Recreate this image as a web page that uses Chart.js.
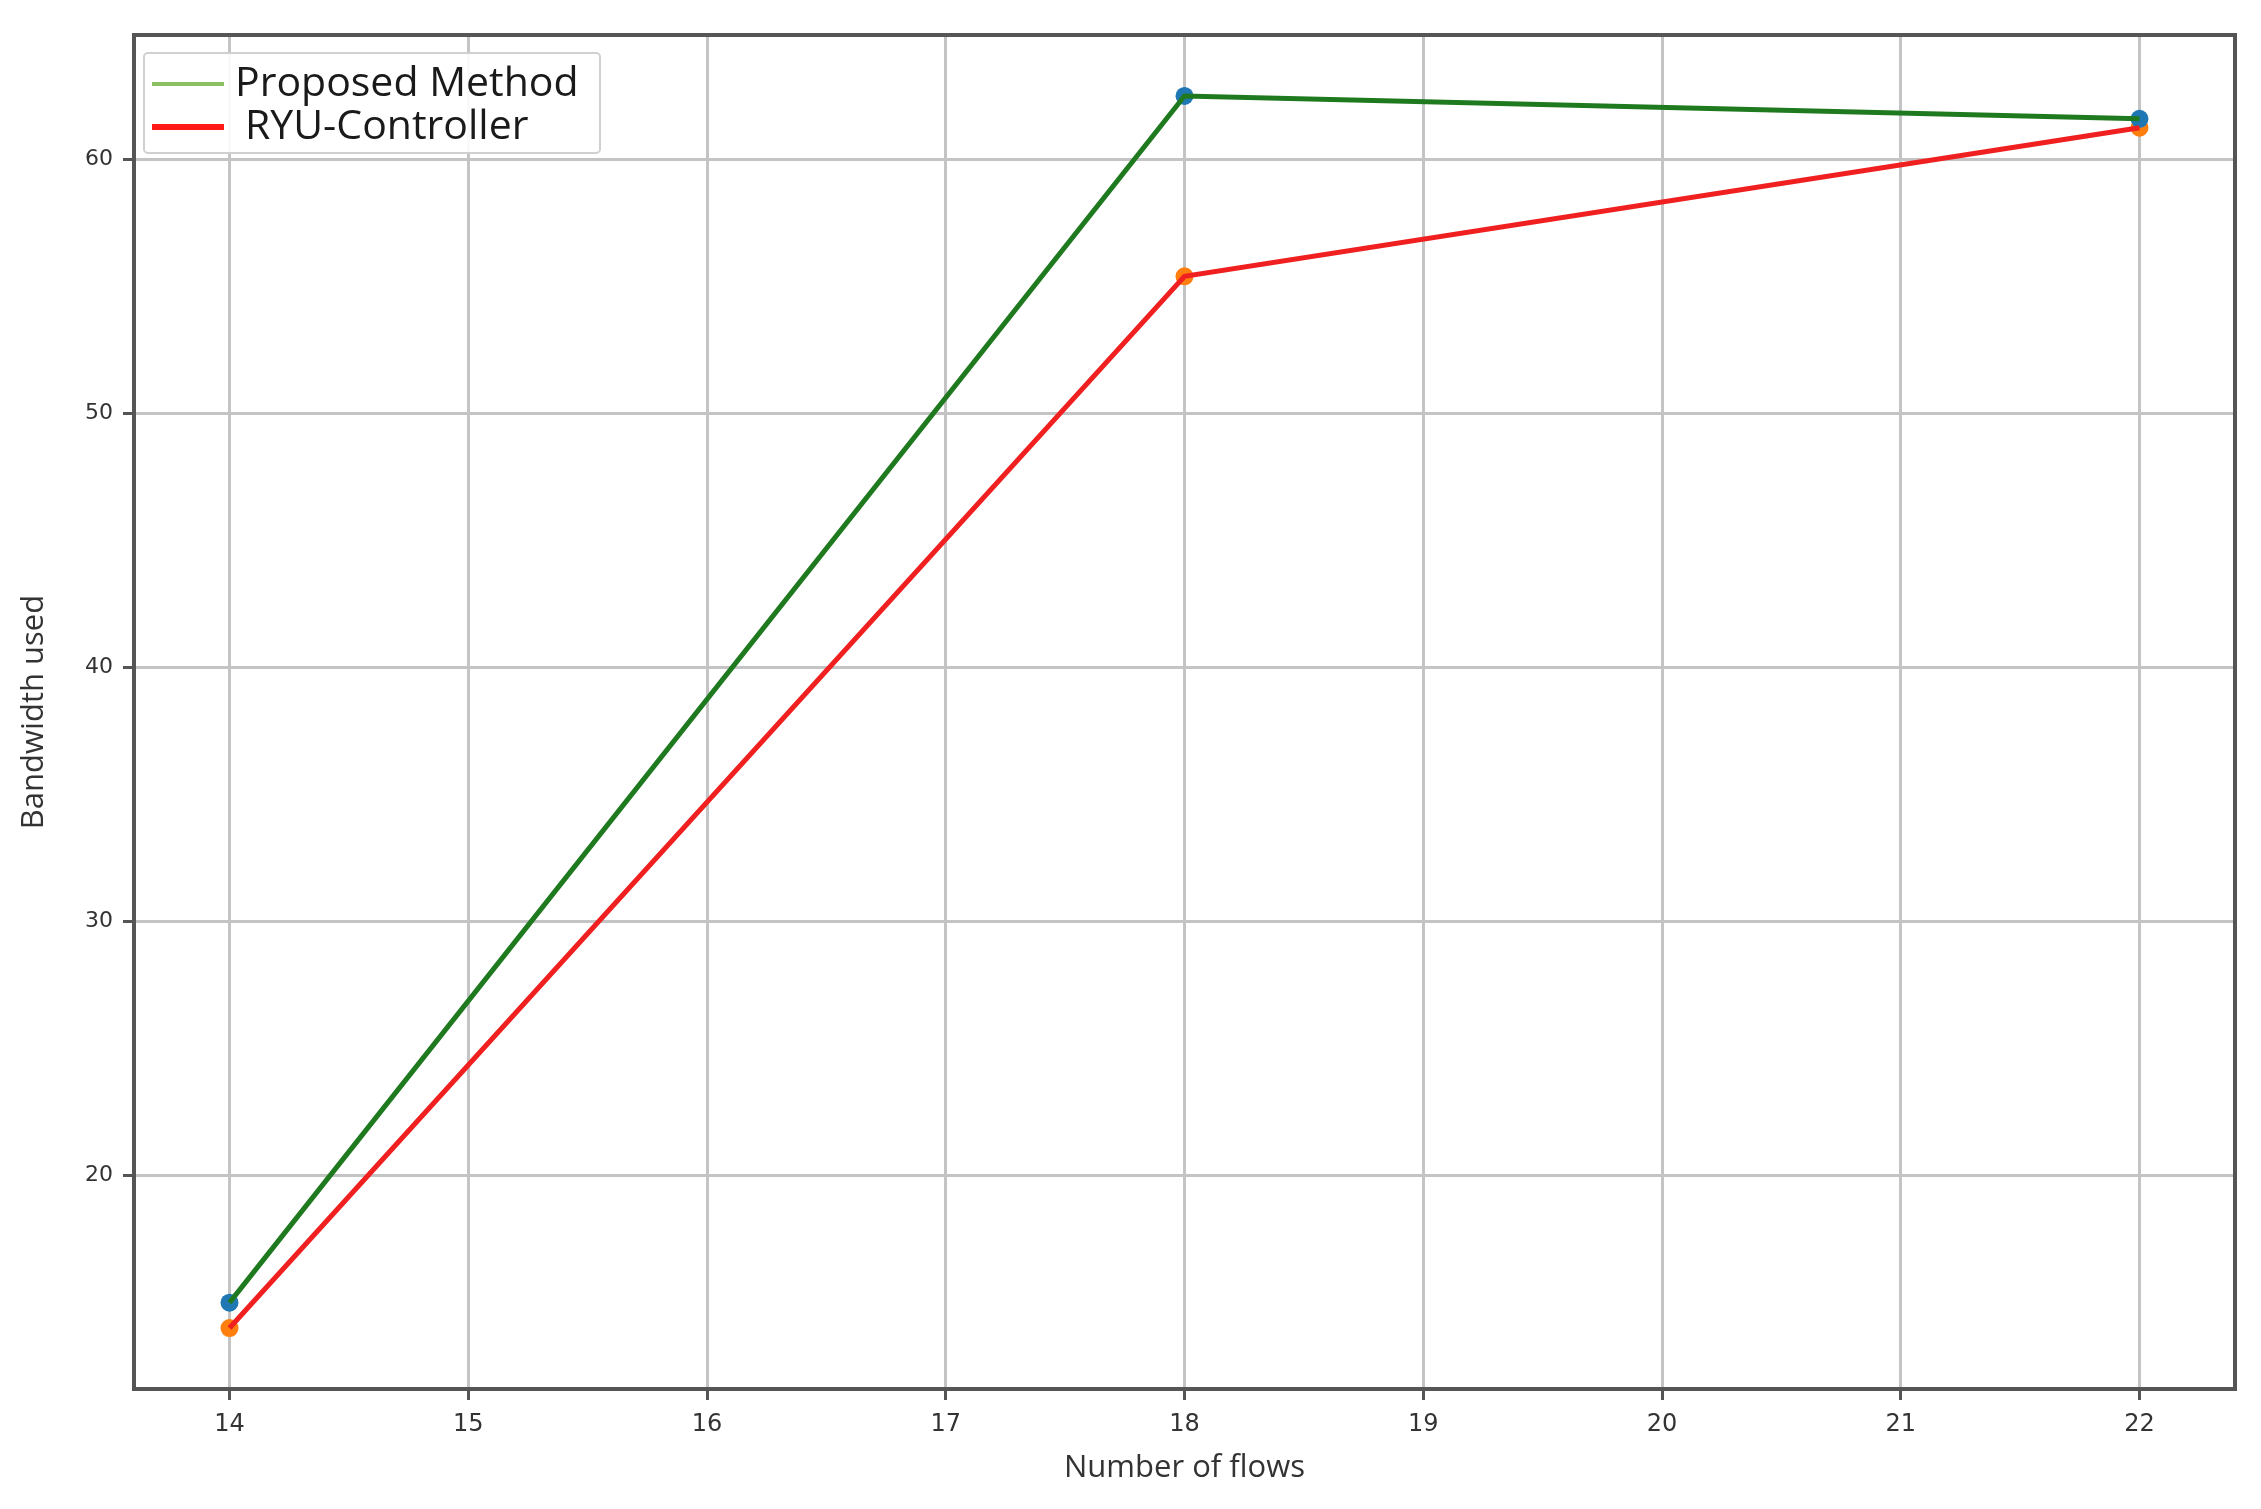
<!DOCTYPE html>
<html>
<head>
<meta charset="utf-8">
<script src="https://cdn.jsdelivr.net/npm/chart.js@4.4.1/dist/chart.umd.min.js"></script>
<style>
  html, body { margin: 0; padding: 0; background: #fff; }
  #wrap { width: 2261px; height: 1509px; position: relative; }
</style>
</head>
<body>
<div id="wrap"><canvas id="bwChart" width="2261" height="1509"></canvas></div>
<script>
// ==========================================
// DATA
// ==========================================
const flows = [14, 18, 22];
const proposedMethod = [15.0, 62.5, 61.6];
const ryuController = [14.0, 55.4, 61.25];
const xTicks = [14, 15, 16, 17, 18, 19, 20, 21, 22];
const yTicks = [20, 30, 40, 50, 60];
const legendLabels = ['Proposed Method', 'RYU-Controller'];

const toPoints = (xs, ys) => xs.map((x, i) => ({ x: x, y: ys[i] }));

// frame + legend drawn inside the plot, matplotlib style
const framePlugin = {
  id: 'frame',
  afterDatasetsDraw(chart) {
    const { ctx, chartArea: a } = chart;
    ctx.save();
    ctx.strokeStyle = '#555';
    ctx.lineWidth = 4;
    ctx.strokeRect(a.left, a.top, a.right - a.left, a.bottom - a.top);

    // legend box
    const bx = a.left + 10, by = a.top + 18, bw = 456, bh = 100;
    ctx.fillStyle = 'rgba(255,255,255,0.9)';
    ctx.strokeStyle = '#d0d0d0';
    ctx.lineWidth = 2;
    ctx.beginPath();
    ctx.roundRect(bx, by, bw, bh, 4);
    ctx.fill();
    ctx.stroke();

    const rows = [
      { label: legendLabels[0], color: '#8cbf62', width: 4, y: by + 31 },
      { label: legendLabels[1], color: '#ff1a1a', width: 6, y: by + 74 }
    ];
    ctx.font = '41px "Open Sans"';
    ctx.textBaseline = 'middle';
    rows.forEach((r, i) => {
      ctx.strokeStyle = r.color;
      ctx.lineWidth = r.width;
      ctx.beginPath();
      ctx.moveTo(bx + 8, r.y);
      ctx.lineTo(bx + 80, r.y);
      ctx.stroke();
      ctx.fillStyle = '#1a1a1a';
      ctx.fillText(r.label, bx + (i === 0 ? 91 : 101), r.y);
    });
    ctx.restore();
  }
};

const ctx = document.getElementById('bwChart');
new Chart(ctx.getContext('2d'), {
  type: 'line',
  data: {
    datasets: [
      { label: legendLabels[0], data: toPoints(flows, proposedMethod), borderColor: '#1f7a1f',
        borderWidth: 5, pointRadius: 0, tension: 0, order: 1 },
      { label: legendLabels[1], data: toPoints(flows, ryuController), borderColor: '#f02020',
        borderWidth: 5, pointRadius: 0, tension: 0, order: 1 },
      { type: 'scatter', data: toPoints(flows, proposedMethod), backgroundColor: '#1f77b4',
        borderWidth: 0, pointRadius: 9, order: 2 },
      { type: 'scatter', data: toPoints(flows, ryuController), backgroundColor: '#ff7f0e',
        borderWidth: 0, pointRadius: 9, order: 2 }
    ]
  },
  options: {
    responsive: false,
    animation: false,
    layout: { padding: { top: 35, right: 26, left: 0, bottom: 0 } },
    plugins: { legend: { display: false }, tooltip: { enabled: false } },
    scales: {
      x: {
        type: 'linear',
        min: 13.6, max: 22.4,
        afterBuildTicks: s => { s.ticks = xTicks.map(v => ({ value: v })); },
        afterFit: s => { s.height = 120; },
        grid: { color: '#c4c4c4', lineWidth: 3, tickLength: 11, tickColor: '#555' },
        border: { display: false },
        ticks: { color: '#333', font: { family: 'DejaVu Sans', size: 24 }, padding: 10, maxRotation: 0 },
        title: { display: true, text: 'Number of flows', color: '#333',
                 font: { family: 'Open Sans', size: 31 }, padding: { top: 0, bottom: 22 } }
      },
      y: {
        type: 'linear',
        min: 11.6, max: 64.9,
        afterBuildTicks: s => { s.ticks = yTicks.map(v => ({ value: v })); },
        afterFit: s => { s.width = 134; },
        grid: { color: '#c4c4c4', lineWidth: 3, tickLength: 11, tickColor: '#555' },
        border: { display: false },
        ticks: { color: '#333', font: { family: 'DejaVu Sans', size: 22 }, padding: 10 },
        title: { display: true, text: 'Bandwidth used', color: '#333',
                 font: { family: 'Open Sans', size: 31 }, padding: { top: 16, bottom: 0 } }
      }
    }
  },
  plugins: [framePlugin]
});
</script>
</body>
</html>
